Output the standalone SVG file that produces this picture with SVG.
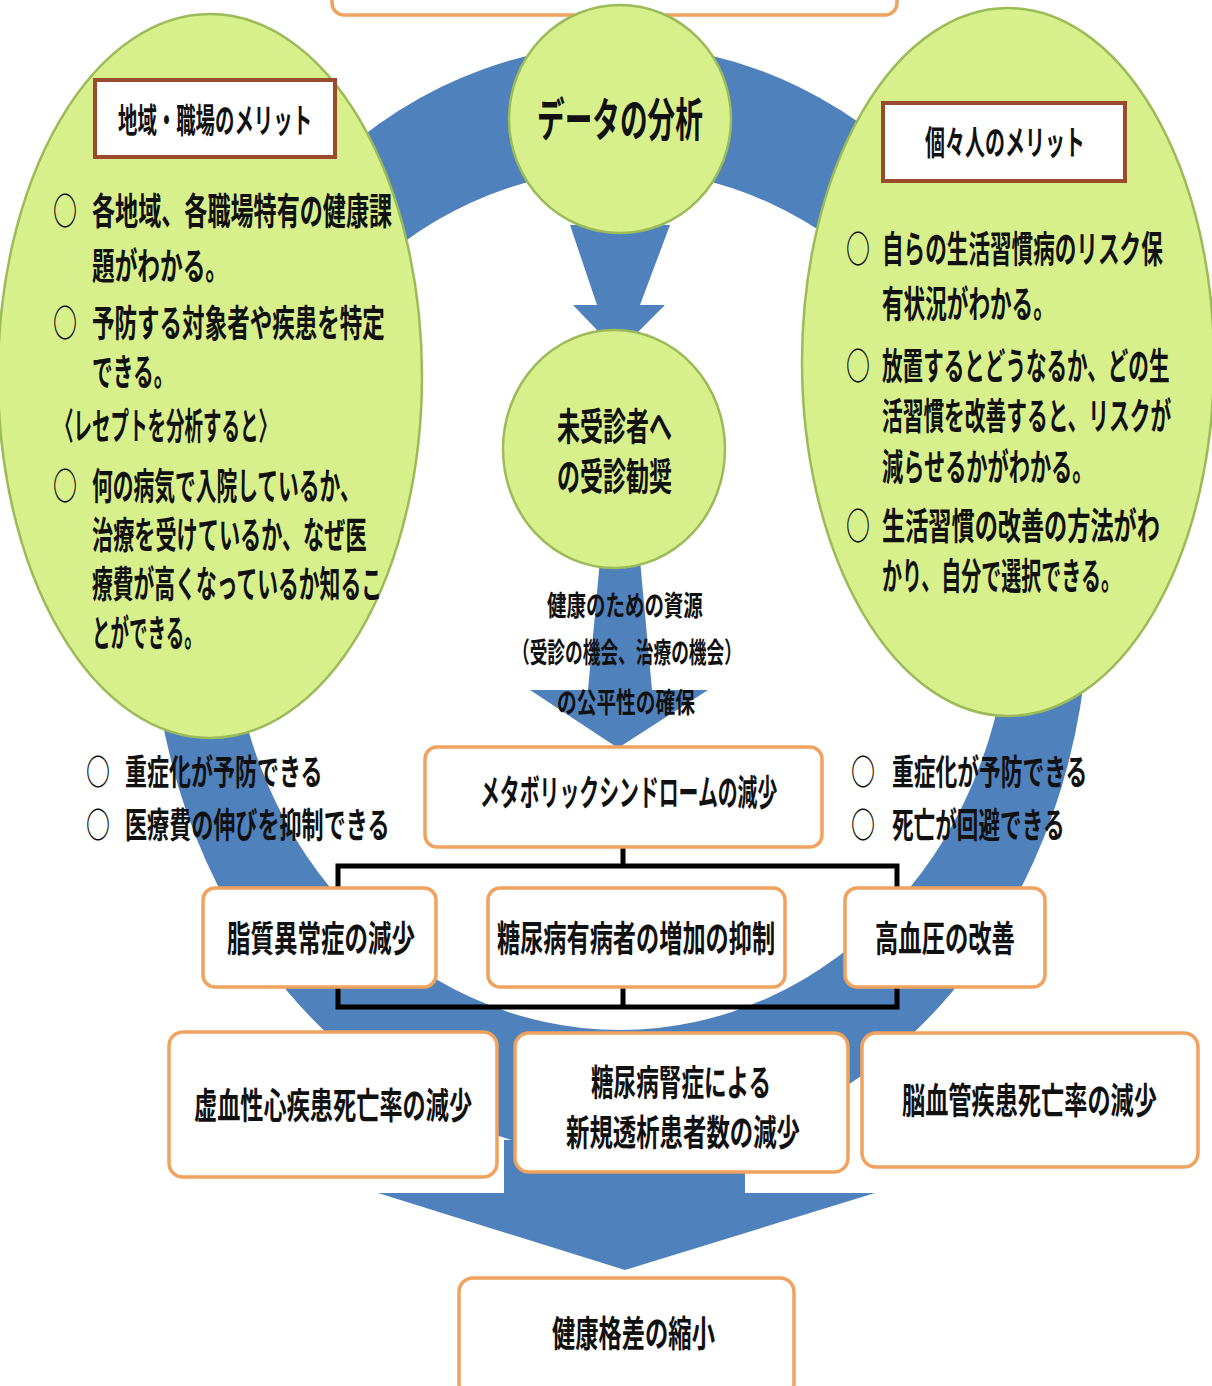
<svg xmlns="http://www.w3.org/2000/svg" width="1212" height="1386" viewBox="0 0 1212 1386">
<style>
text{font-family:"Noto Sans CJK JP","Noto Sans CJK SC",sans-serif;fill:#111;}
.b{font-weight:bold;}
.t37{font-size:37px;font-weight:bold;}
.t35{font-size:35px;font-weight:bold;}
.t36{font-size:36px;font-weight:bold;}
.blue{fill:#4f81bd;}
.green{fill:#d8f08c;stroke:#9bbb59;stroke-width:2.5;}
.obox{fill:#ffffff;stroke:#f0a35e;stroke-width:3.5;}
.hbox{fill:#ffffff;stroke:#9c4a2e;stroke-width:4;}
.conn{fill:none;stroke:#000;stroke-width:5;}
</style>
<rect x="0" y="0" width="1212" height="1386" fill="#ffffff"/>

<g id="flows">
  <path class="blue" fill-rule="evenodd" d="M151,600 a469,555 0 1,0 938,0 a469,555 0 1,0 -938,0 Z M230,600 a390,430 0 1,0 780,0 a390,430 0 1,0 -780,0 Z"/>
  <polygon class="blue" points="504,1140 745,1140 745,1193 875,1193 625,1270 378,1193 504,1193"/>
  <polygon class="blue" points="570,225 670,225 640,305 665,305 618,352 573,305 597,305"/>
  <polygon class="blue" points="600,560 640,560 652,690 708,690 618,748 530,690 588,690"/>
</g>

<g id="top-box">
  <rect class="obox" x="332" y="-40" width="565" height="55" rx="12"/>
</g>

<g id="left-merit">
  <ellipse class="green" cx="210" cy="376" rx="212" ry="362"/>
  <rect class="hbox" x="95" y="80" width="240" height="77"/>
  <text transform="translate(118,133) scale(0.571,1)" class="b" font-size="34">地域・職場のメリット</text>
  <text transform="translate(53,225) scale(0.649,1)" class="t37">○</text>
  <text transform="translate(92,225) scale(0.624,1)" class="t37">各地域、各職場特有の健康課</text>
  <text transform="translate(92,280) scale(0.613,1)" class="t37">題がわかる。</text>
  <text transform="translate(53,337) scale(0.649,1)" class="t37">○</text>
  <text transform="translate(92,337) scale(0.609,1)" class="t37">予防する対象者や疾患を特定</text>
  <text transform="translate(92,386) scale(0.56,1)" class="t37">できる。</text>
  <text transform="translate(55,440) scale(0.5,1)" class="t37">〈レセプトを分析すると〉</text>
  <text transform="translate(53,500) scale(0.649,1)" class="t37">○</text>
  <text transform="translate(92,500) scale(0.561,1)" class="t37">何の病気で入院しているか、</text>
  <text transform="translate(92,549) scale(0.572,1)" class="t37">治療を受けているか、なぜ医</text>
  <text transform="translate(92,598) scale(0.562,1)" class="t37">療費が高くなっているか知るこ</text>
  <text transform="translate(92,647) scale(0.5,1)" class="t37">とができる。</text>
</g>

<g id="right-merit">
  <ellipse class="green" cx="1008" cy="362" rx="206" ry="354"/>
  <rect class="hbox" x="883" y="103" width="242" height="78"/>
  <text transform="translate(925,155) scale(0.588,1)" class="b" font-size="34">個々人のメリット</text>
  <text transform="translate(846,263) scale(0.649,1)" class="t37">○</text>
  <text transform="translate(882,263) scale(0.584,1)" class="t37">自らの生活習慣病のリスク保</text>
  <text transform="translate(882,318) scale(0.584,1)" class="t37">有状況がわかる。</text>
  <text transform="translate(846,380) scale(0.649,1)" class="t37">○</text>
  <text transform="translate(882,380) scale(0.556,1)" class="t37">放置するとどうなるか、どの生</text>
  <text transform="translate(882,430) scale(0.56,1)" class="t37">活習慣を改善すると、リスクが</text>
  <text transform="translate(882,481) scale(0.573,1)" class="t37">減らせるかがわかる。</text>
  <text transform="translate(846,540) scale(0.649,1)" class="t37">○</text>
  <text transform="translate(882,540) scale(0.626,1)" class="t37">生活習慣の改善の方法がわ</text>
  <text transform="translate(882,590) scale(0.541,1)" class="t37">かり、自分で選択できる。</text>
</g>

<g id="data-analysis">
  <ellipse class="green" cx="620" cy="119" rx="111" ry="114"/>
  <text transform="translate(537,136) scale(0.601,1)" font-size="46" font-weight="bold">データの分析</text>
</g>

<g id="recommend">
  <ellipse class="green" cx="614" cy="449" rx="111" ry="119"/>
  <text transform="translate(557,440) scale(0.605,1)" class="b" font-size="38">未受診者へ</text>
  <text transform="translate(557,490) scale(0.605,1)" class="b" font-size="38">の受診勧奨</text>
</g>

<g id="resource-label">
  <text transform="translate(547,616) scale(0.696,1)" class="b" font-size="28">健康のための資源</text>
  <text transform="translate(512,663) scale(0.632,1)" class="b" font-size="28">（受診の機会、治療の機会）</text>
  <text transform="translate(557,713) scale(0.704,1)" class="b" font-size="28">の公平性の確保</text>
</g>

<g id="left-effects">
  <text transform="translate(86,785) scale(0.686,1)" class="t35">○</text>
  <text transform="translate(125,785) scale(0.629,1)" class="t35">重症化が予防できる</text>
  <text transform="translate(86,838) scale(0.686,1)" class="t35">○</text>
  <text transform="translate(125,838) scale(0.631,1)" class="t35">医療費の伸びを抑制できる</text>
</g>

<g id="right-effects">
  <text transform="translate(851,785) scale(0.686,1)" class="t35">○</text>
  <text transform="translate(892,785) scale(0.622,1)" class="t35">重症化が予防できる</text>
  <text transform="translate(851,838) scale(0.686,1)" class="t35">○</text>
  <text transform="translate(892,838) scale(0.618,1)" class="t35">死亡が回避できる</text>
</g>

<g id="connectors">
  <path class="conn" d="M338,890 V866 H897 V890 M623,847 V866 M338,985 V1007 H897 V985 M623,987 V1007"/>
</g>

<g id="metabo">
  <rect class="obox" x="425" y="747" width="397" height="100" rx="12"/>
  <text transform="translate(480,806) scale(0.552,1)" class="t36">メタボリックシンドロームの減少</text>
</g>

<g id="lipid">
  <rect class="obox" x="203" y="888" width="233" height="99" rx="12"/>
  <text transform="translate(227,952) scale(0.653,1)" class="t36">脂質異常症の減少</text>
</g>

<g id="diabetes">
  <rect class="obox" x="488" y="888" width="297" height="99" rx="12"/>
  <text transform="translate(497,952) scale(0.644,1)" class="t36">糖尿病有病者の増加の抑制</text>
</g>

<g id="hypertension">
  <rect class="obox" x="845" y="888" width="200" height="99" rx="12"/>
  <text transform="translate(875,952) scale(0.648,1)" class="t36">高血圧の改善</text>
</g>

<g id="ischemic">
  <rect class="obox" x="169" y="1032" width="328" height="145" rx="14"/>
  <text transform="translate(194,1119) scale(0.644,1)" class="t36">虚血性心疾患死亡率の減少</text>
</g>

<g id="dialysis">
  <rect class="obox" x="515" y="1033" width="333" height="139" rx="14"/>
  <text transform="translate(591,1096) scale(0.628,1)" class="t36">糖尿病腎症による</text>
  <text transform="translate(566,1146) scale(0.65,1)" class="t36">新規透析患者数の減少</text>
</g>

<g id="cerebro">
  <rect class="obox" x="862" y="1033" width="336" height="134" rx="14"/>
  <text transform="translate(902,1114) scale(0.644,1)" class="t36">脳血管疾患死亡率の減少</text>
</g>

<g id="health-gap">
  <rect class="obox" x="459" y="1278" width="335" height="120" rx="14"/>
  <text transform="translate(552,1347) scale(0.647,1)" class="t36">健康格差の縮小</text>
</g>
</svg>
